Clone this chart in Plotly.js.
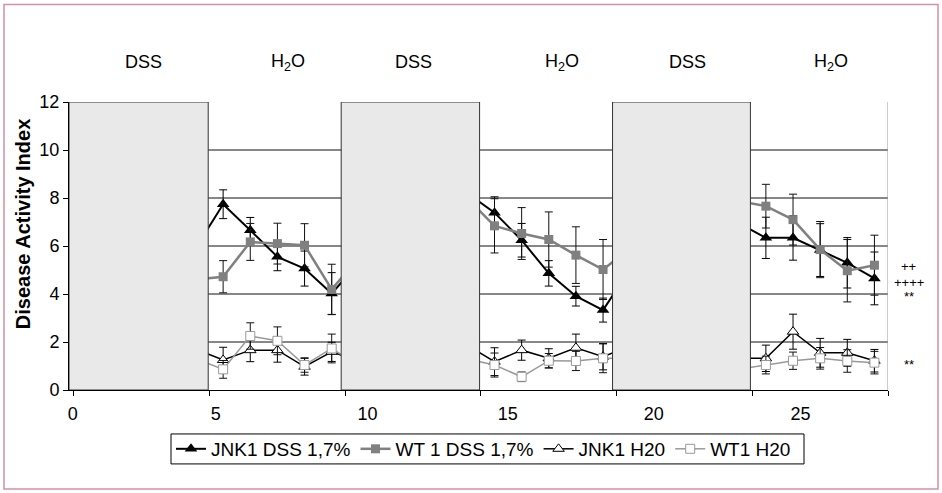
<!DOCTYPE html>
<html>
<head>
<meta charset="utf-8">
<script src="https://cdn.plot.ly/plotly-3.0.1.min.js"></script>
<style>html,body{margin:0;padding:0;background:#fff;}#chart{width:942px;height:493px;}</style>
</head>
<body>
<div id="chart"></div>
<script>
// Days (points at 4.5, 10.5, 14.5, 20.5, 24.5 lie under the grey DSS panels)
const days = [4.5,5.5,6.5,7.5,8.5,9.5,10.5,14.5,15.5,16.5,17.5,18.5,19.5,20.5,24.5,25.5,26.5,27.5,28.5,29.5];

const jnkDss    = [5.94,7.74,6.66,5.55,5.06,4.02,5.3, 8.2,7.39,6.24,4.86,3.91,3.33,5.05, 6.95,6.34,6.34,5.83,5.30,4.65];
const jnkDssErr = [0,0.6,0.53,0.58,0.73,0.87,0, 0,0.66,0.7,0.53,0.41,0.5,0, 0,0.86,0.93,1.1,1.05,1.1];

const wtDss     = [4.6,4.72,6.17,6.10,6.03,4.19,5.5, 7.98,6.84,6.52,6.27,5.62,5.02,5.9, 7.87,7.66,7.1,5.85,4.97,5.2];
const wtDssErr  = [0,0.67,0.77,0.85,0.9,1.05,0, 0,1.13,1.08,1.15,1.18,1.25,0, 0,0.91,1.06,1.17,1.3,1.25];

const jnkH2o    = [1.7,1.25,1.66,1.66,0.97,1.59,1.2, 1.86,1.18,1.66,1.32,1.76,1.39,1.83, 1.32,1.32,2.43,1.55,1.55,1.22];
const jnkH2oErr = [0,0.53,0.48,0.5,0.35,0.4,0, 0,0.58,0.42,0.4,0.57,0.55,0, 0,0.55,0.73,0.6,0.56,0.47];

const wtH2o     = [1.3,0.86,2.25,2.05,1.04,1.73,1.0, 1.29,1.04,0.55,1.22,1.21,1.32,1.32, 0.86,1.04,1.22,1.32,1.21,1.14];
const wtH2oErr  = [0,0.37,0.55,0.58,0.3,0.6,0, 0,0.5,0.2,0.3,0.4,0.6,0, 0,0.37,0.36,0.45,0.47,0.47];

const seriesNames = ['JNK1 DSS 1,7%','WT 1 DSS 1,7%','JNK1 H20','WT1 H20'];

// DSS treatment periods (grey panels)
const dssStart = [-0.18, 9.85, 19.85];
const dssEnd   = [4.95, 14.95, 24.93];

// Period labels above the plot
const periodLabels = ['DSS','H<sub>2</sub>O','DSS','H<sub>2</sub>O','DSS','H<sub>2</sub>O'];
const periodPos    = [2.58, 7.88, 12.53, 17.98, 22.62, 27.89];

// axis ticks and (offset) tick labels
const yTicks = [0,2,4,6,8,10,12];
const gridVals = [2,4,6,8,10];
const xTicks = [0,5,10,15,20,25,30];
const xLabelPos = [-0.04, 5.23, 10.82, 15.99, 21.37, 26.78];
const xLabelText = ['0','5','10','15','20','25'];

// significance marks at the right
const sigText = ['++','++++','**','**'];
const sigY    = [5.13, 4.47, 3.91, 1.08];

const FONT = 'Arial, "Liberation Sans", sans-serif';

function errs(a, c){ return {type:'data', array:a, visible:true, color:c, thickness:1, width:4}; }

const traces = [
  {x:days, y:jnkDss, name:seriesNames[0], mode:'lines+markers', type:'scatter',
   line:{color:'#000', width:2}, marker:{symbol:'triangle-up', size:11, color:'#000'},
   error_y:errs(jnkDssErr,'#000')},
  {x:days, y:wtDss, name:seriesNames[1], mode:'lines+markers', type:'scatter',
   line:{color:'#808080', width:2.5}, marker:{symbol:'square', size:9, color:'#808080'},
   error_y:errs(wtDssErr,'#111')},
  {x:days, y:jnkH2o, name:seriesNames[2], mode:'lines+markers', type:'scatter',
   line:{color:'#000', width:1.5}, marker:{symbol:'triangle-up', size:10, color:'#fff', line:{color:'#000', width:1}},
   error_y:errs(jnkH2oErr,'#000')},
  {x:days, y:wtH2o, name:seriesNames[3], mode:'lines+markers', type:'scatter',
   line:{color:'#999', width:1.5}, marker:{symbol:'square', size:9, color:'#fff', line:{color:'#999', width:1}},
   error_y:errs(wtH2oErr,'#111')},
  {x:[], y:[], xaxis:'x2', showlegend:false, hoverinfo:'skip', type:'scatter'}
];

const shapes = [];
gridVals.forEach(v=>shapes.push({type:'line', xref:'paper', yref:'y', x0:0, x1:1, y0:v, y1:v,
  line:{color:'#111', width:1}, layer:'below'}));
for (let i=0;i<dssStart.length;i++){
  shapes.push({type:'rect', xref:'x', yref:'y', x0:dssStart[i], x1:dssEnd[i], y0:0, y1:12,
    fillcolor:'#e9e9e9', line:{color:'#333', width:1}, layer:'above'});
}
shapes.push({type:'line', xref:'x', yref:'y', x0:30, x1:30, y0:0, y1:12, line:{color:'#999', width:1}, layer:'above'});
// legend frame
shapes.push({type:'rect', xref:'paper', yref:'paper', x0:(171-69)/819, x1:(804-69)/819, y0:(390-464)/288.3, y1:(390-434)/288.3,
  line:{color:'#000', width:1}, fillcolor:'rgba(0,0,0,0)', layer:'below'});
// outer frame
shapes.push({type:'rect', xref:'paper', yref:'paper', x0:(4-69)/819, x1:(938-69)/819, y0:(390-489)/288.3, y1:(390-4)/288.3,
  line:{color:'#d4919e', width:1.5}, fillcolor:'rgba(0,0,0,0)', layer:'below'});

const annotations = [];
periodLabels.forEach((t,i)=>annotations.push({text:t, xref:'x', yref:'paper', x:periodPos[i], y:(390-62)/288.3,
  showarrow:false, font:{family:FONT, size:18, color:'#000'}, xanchor:'center', yanchor:'middle'}));
sigText.forEach((t,i)=>annotations.push({text:t, xref:'paper', yref:'y', x:(909-69)/819, y:sigY[i],
  showarrow:false, font:{family:FONT, size:13, color:'#000'}, xanchor:'center', yanchor:'middle'}));
annotations.push({text:'<b>Disease Activity Index</b>', xref:'paper', yref:'paper', x:(23-69)/819, y:(390-224)/288.3,
  textangle:-90, showarrow:false, font:{family:FONT, size:20, color:'#000'}, xanchor:'center', yanchor:'middle'});

const layout = {
  width:942, height:493,
  margin:{l:69, r:54, t:102, b:103, pad:0},
  paper_bgcolor:'#fff', plot_bgcolor:'#fff',
  font:{family:FONT, color:'#000'},
  showlegend:true,
  xaxis:{range:[-0.18,30], tickvals:xTicks, showticklabels:false, ticks:'outside', ticklen:5, tickcolor:'#000',
    showline:true, linecolor:'#000', linewidth:1, showgrid:false, zeroline:false, fixedrange:true},
  xaxis2:{overlaying:'x', anchor:'y', side:'bottom', range:[-0.18,30], tickvals:xLabelPos, ticktext:xLabelText,
    ticks:'outside', ticklen:7, tickcolor:'rgba(0,0,0,0)', showline:false, showgrid:false, zeroline:false,
    tickfont:{family:FONT, size:18, color:'#000'}},
  yaxis:{range:[0,12], tickvals:yTicks, ticks:'outside', ticklen:5, tickcolor:'#000',
    showline:true, linecolor:'#000', linewidth:1, showgrid:false, zeroline:false,
    tickfont:{family:FONT, size:18, color:'#000'}},
  legend:{orientation:'h', x:(171-69)/819, y:(390-430)/288.3, xanchor:'left', yanchor:'top',
    borderwidth:0, bgcolor:'rgba(0,0,0,0)', font:{family:FONT, size:19, color:'#000'}, itemwidth:30},
  shapes:shapes, annotations:annotations
};

Plotly.newPlot('chart', traces, layout, {displayModeBar:false, staticPlot:true});
</script>
</body>
</html>
